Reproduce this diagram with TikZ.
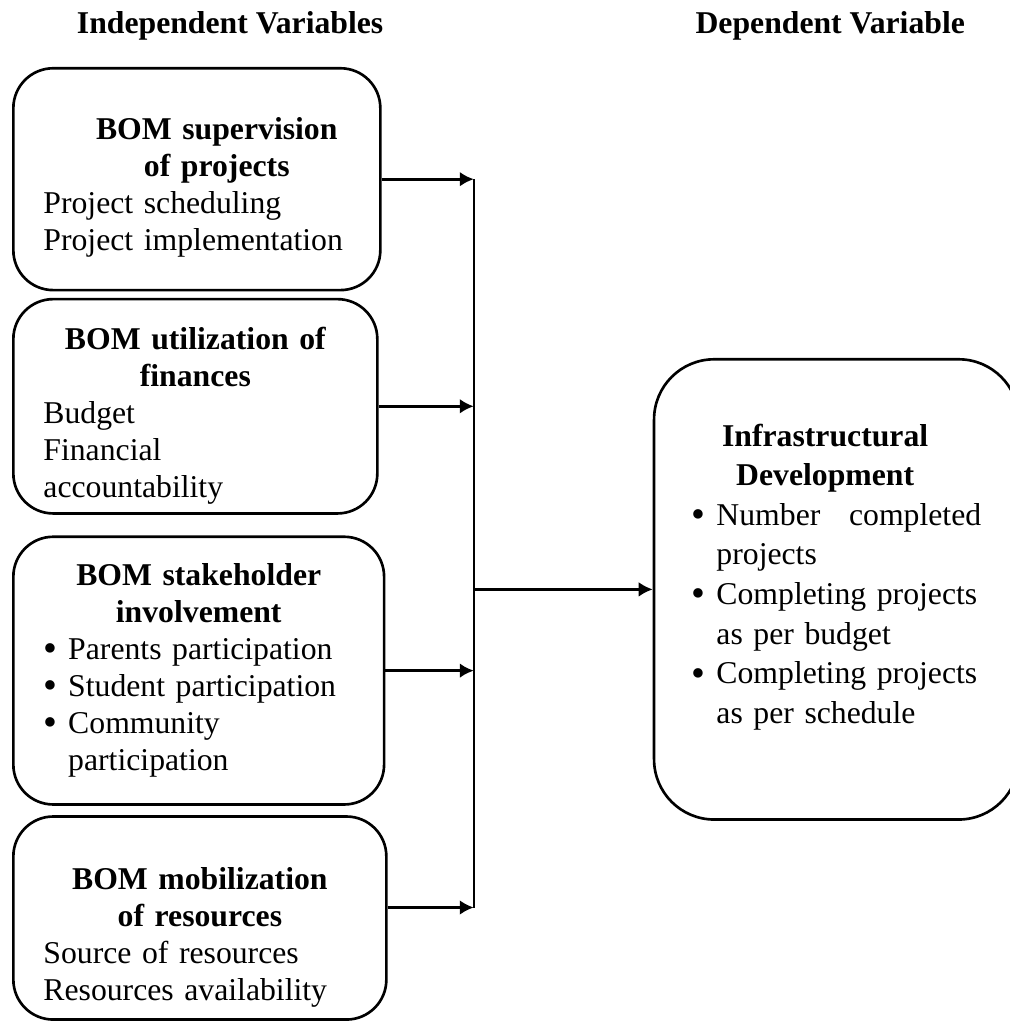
\documentclass[tikz,border=0pt]{standalone}
\usepackage{fontspec}
\setmainfont{Liberation Serif}
\usepackage{tikz}
\usetikzlibrary{calc}
\usetikzlibrary{arrows.meta}

\newcommand{\bpoint}[1]{\par\noindent\hangindent=0.33cm\hangafter=1%
	\makebox[0.33cm][l]{\raisebox{-0.8pt}{\fontsize{15pt}{15pt}\selectfont\textbullet}}#1}
\newcommand{\topgap}[1]{\rule{0pt}{#1}}

\begin{document}
\begin{tikzpicture}[>={Latex[length=5.3pt,width=5.6pt]},
		varbox/.style={draw=black, line width=1pt, rounded corners=0.53cm, anchor=north west, inner xsep=0.4cm, inner ysep=0pt,
			font=\fontsize{12pt}{14pt}\selectfont, execute at begin node=\setlength{\parindent}{0pt}},
		head/.style={font=\fontsize{12pt}{14pt}\selectfont\bfseries, anchor=base},
		link/.style={->, line width=1pt}]
	\useasboundingbox (0,0) rectangle (13.42,-13.67);

	% Headings
	\node[head] (hind) at (3.06,-0.44) {Independent Variables};
	\node[head] (hdep) at (11.04,-0.44) {Dependent Variable};

	% Independent variables
	\node[varbox, text width=4.08cm, minimum height=2.95cm] (b1) at (0.16,-0.89)
		{{\centering\bfseries\topgap{0.5cm}\hspace*{0.53cm}BOM supervision\\ \hspace*{0.53cm}of projects\par}
		Project scheduling\\ Project implementation};
	\node[varbox, text width=4.04cm, minimum height=2.85cm] (b2) at (0.16,-3.96)
		{{\centering\bfseries\topgap{0.56cm}BOM utilization of\\ finances\par}
		Budget\\ Financial\\ accountability};
	\node[varbox, text width=4.13cm, minimum height=3.56cm] (b3) at (0.16,-7.12)
		{{\centering\bfseries BOM stakeholder\\ involvement\par}
		\bpoint{Parents participation}
		\bpoint{Student participation}
		\bpoint{Community\newline participation}\par};
	\node[varbox, text width=4.16cm, minimum height=2.70cm] (b4) at (0.16,-10.84)
		{{\centering\bfseries\topgap{0.8cm}BOM mobilization\\ of resources\par}
		Source of resources\\ Resources availability};

	% Dependent variable
	\node[varbox, rounded corners=0.8cm, inner xsep=0.5cm, text width=3.85cm, minimum height=6.12cm,
		font=\fontsize{12pt}{15pt}\selectfont] (rbox) at (8.68,-4.76)
		{{\centering\bfseries\hspace*{-0.3cm}Infrastructural\\ \hspace*{-0.3cm}Development\par}
		\bpoint{Number\hfill completed\newline projects}
		\bpoint{Completing projects\newline as per budget}
		\bpoint{Completing projects\newline as per schedule\rule[-0.42cm]{0pt}{0pt}}\par};

	% Connectors
	\coordinate (jx) at (6.30,0);
	\coordinate (b4out) at ($(b4.east)+(0,0.14)$);
	\draw[line width=0.6pt] (b1.east -| jx) -- (b4out -| jx);
	\foreach \b in {b1,b2,b3}{
		\draw[link] (\b.east) -- (\b.east -| jx);
	}
	\draw[link] (b4out) -- (b4out -| jx);
	\draw[link] (rbox.west -| jx) -- (rbox.west);
\end{tikzpicture}
\end{document}
